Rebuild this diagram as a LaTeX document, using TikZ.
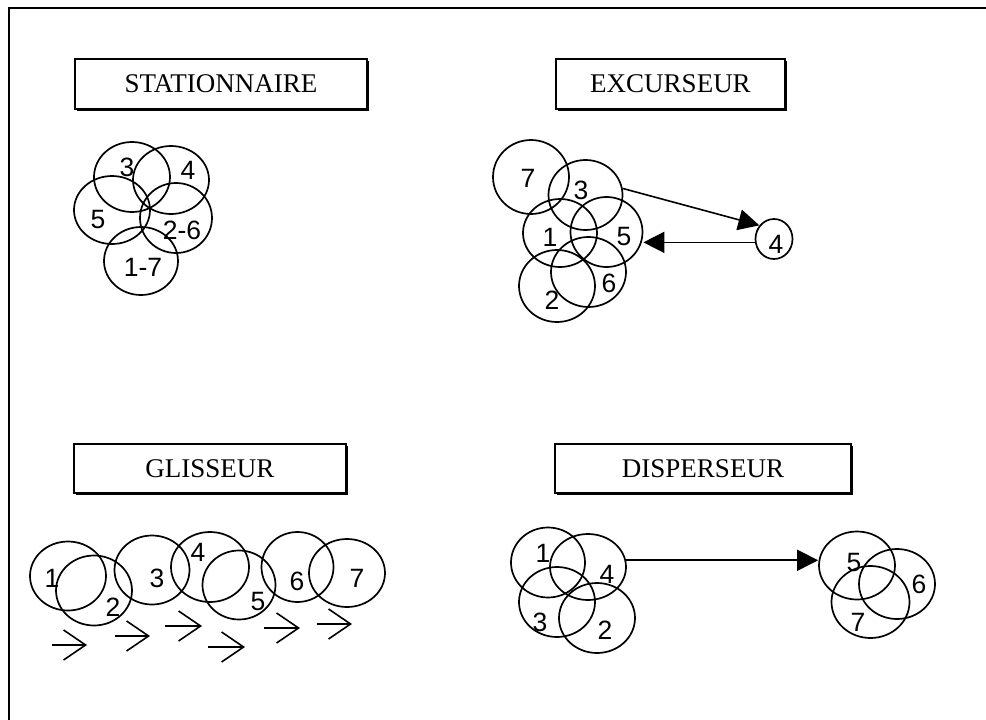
\documentclass[tikz,border=0pt]{standalone}
\usepackage{fontspec}
\setmainfont{Liberation Serif}
\newfontfamily\numfont{Liberation Sans}
\usetikzlibrary{shapes.geometric,arrows.meta,shadows}
\begin{document}
\begin{tikzpicture}[x=1pt,y=-1pt,
  titlebox/.style={draw,fill=white,line width=1.5pt,inner sep=0pt,
    general shadow={fill=black,shadow xshift=2pt,shadow yshift=-2pt},
    font=\fontsize{27}{30}\selectfont},
  circ/.style={draw,ellipse,line width=1.7pt,inner sep=0pt},
  lab/.style={font=\numfont\fontsize{26.5}{30}\selectfont,inner sep=0pt},
  bigarrow/.style={line width=1.6pt,-{Triangle[length=21pt,width=21pt]}},
  slidearrow/.style={line width=1.6pt,-{Straight Barb[length=22pt,width=30pt]}}]
\useasboundingbox (0,0) rectangle (986,720);
% frame
\draw[line width=2pt] (986,8) -- (9,8) -- (9,720);

% titles
\node[titlebox,minimum width=292pt,minimum height=50pt] (tS) at (221,84) {STATIONNAIRE};
\node[titlebox,minimum width=229pt,minimum height=50pt] (tE) at (670.5,84) {EXCURSEUR};
\node[titlebox,minimum width=272pt,minimum height=49pt] (tG) at (210,468.5) {GLISSEUR};
\node[titlebox,minimum width=296pt,minimum height=49pt] (tD) at (703,468.5) {DISPERSEUR};

% STATIONNAIRE
\node[circ,minimum width=76pt,minimum height=70pt] (s3) at (132,177) {};
\node[circ,minimum width=76pt,minimum height=68pt] (s4) at (171,180) {};
\node[circ,minimum width=76pt,minimum height=68pt] (s5) at (112,210) {};
\node[circ,minimum width=72pt,minimum height=70pt] (s26) at (176,218) {};
\node[circ,minimum width=74pt,minimum height=68pt] (s17) at (141,261) {};
\node[lab] (ls3) at (127,167) {3};
\node[lab] (ls4) at (188,170) {4};
\node[lab] (ls5) at (98,220) {5};
\node[lab] (ls26) at (182,230) {2-6};
\node[lab] (ls17) at (143,267) {1-7};

% EXCURSEUR
\node[circ,minimum width=76pt,minimum height=74pt] (e7) at (531,177) {};
\node[circ,minimum width=74pt,minimum height=70pt] (e3) at (585.5,195) {};
\node[circ,minimum width=74pt,minimum height=68pt] (e1) at (560,233) {};
\node[circ,minimum width=72pt,minimum height=70pt] (e5) at (606.5,232) {};
\node[circ,minimum width=76pt,minimum height=72pt] (e2) at (557,286) {};
\node[circ,minimum width=75pt,minimum height=70pt] (e6) at (588.5,272) {};
\node[circ,minimum width=37pt,minimum height=40pt] (e4) at (774,239) {};
\node[lab] (le7) at (528,178) {7};
\node[lab] (le3) at (581,190) {3};
\node[lab] (le1) at (550,237) {1};
\node[lab] (le5) at (624,237) {5};
\node[lab] (le2) at (552,300) {2};
\node[lab] (le6) at (609,283) {6};
\node[lab] (le4) at (776,244) {4};
\draw[bigarrow] (e3.10) -- (e4.137);
\draw[bigarrow] (e4.190) -- (e4.190 -| e5.east);

% GLISSEUR
\node[circ,minimum width=76pt,minimum height=69pt] (g1) at (68,576) {};
\node[circ,minimum width=76pt,minimum height=70pt] (g2) at (94,590.5) {};
\node[circ,minimum width=75pt,minimum height=69pt] (g3) at (152,570) {};
\node[circ,minimum width=78pt,minimum height=70pt] (g4) at (210,567) {};
\node[circ,minimum width=73pt,minimum height=69pt] (g5) at (239,585) {};
\node[circ,minimum width=72pt,minimum height=70pt] (g6) at (297.5,567) {};
\node[circ,minimum width=76pt,minimum height=68pt] (g7) at (347,573) {};
\node[lab] (lg1) at (52,578) {1};
\node[lab] (lg2) at (113,607) {2};
\node[lab] (lg3) at (157,578) {3};
\node[lab] (lg4) at (198,552) {4};
\node[lab] (lg5) at (258,602) {5};
\node[lab] (lg6) at (297,581) {6};
\node[lab] (lg7) at (357,578) {7};
\coordinate (a1s) at (52,645);  \coordinate (a1e) at (87,645);
\coordinate (a2s) at (115,636); \coordinate (a2e) at (150,636);
\coordinate (a3s) at (165,626); \coordinate (a3e) at (202,626);
\coordinate (a4s) at (208,647); \coordinate (a4e) at (245,647);
\coordinate (a5s) at (264,628); \coordinate (a5e) at (300,628);
\coordinate (a6s) at (317,624); \coordinate (a6e) at (352,624);
\foreach \i in {1,...,6} {\draw[slidearrow] (a\i s) -- (a\i e);}

% DISPERSEUR
\node[circ,minimum width=74pt,minimum height=70pt] (d1) at (548,562.5) {};
\node[circ,minimum width=76pt,minimum height=66pt] (d4) at (588,567) {};
\node[circ,minimum width=76pt,minimum height=70pt] (d3) at (557,602) {};
\node[circ,minimum width=76pt,minimum height=70pt] (d2) at (597,618) {};
\node[circ,minimum width=76pt,minimum height=68pt] (d5) at (857,565.5) {};
\node[circ,minimum width=76pt,minimum height=70pt] (d6) at (897,584) {};
\node[circ,minimum width=78pt,minimum height=72pt] (d7) at (870.5,602) {};
\node[lab] (ld1) at (543,553) {1};
\node[lab] (ld4) at (607,574) {4};
\node[lab] (ld3) at (540,622) {3};
\node[lab] (ld2) at (605,630) {2};
\node[lab] (ld5) at (854,563) {5};
\node[lab] (ld6) at (919,584) {6};
\node[lab] (ld7) at (858,622) {7};
\draw[bigarrow] (d4.10) -- (d4.10 -| d5.west);
\end{tikzpicture}
\end{document}
